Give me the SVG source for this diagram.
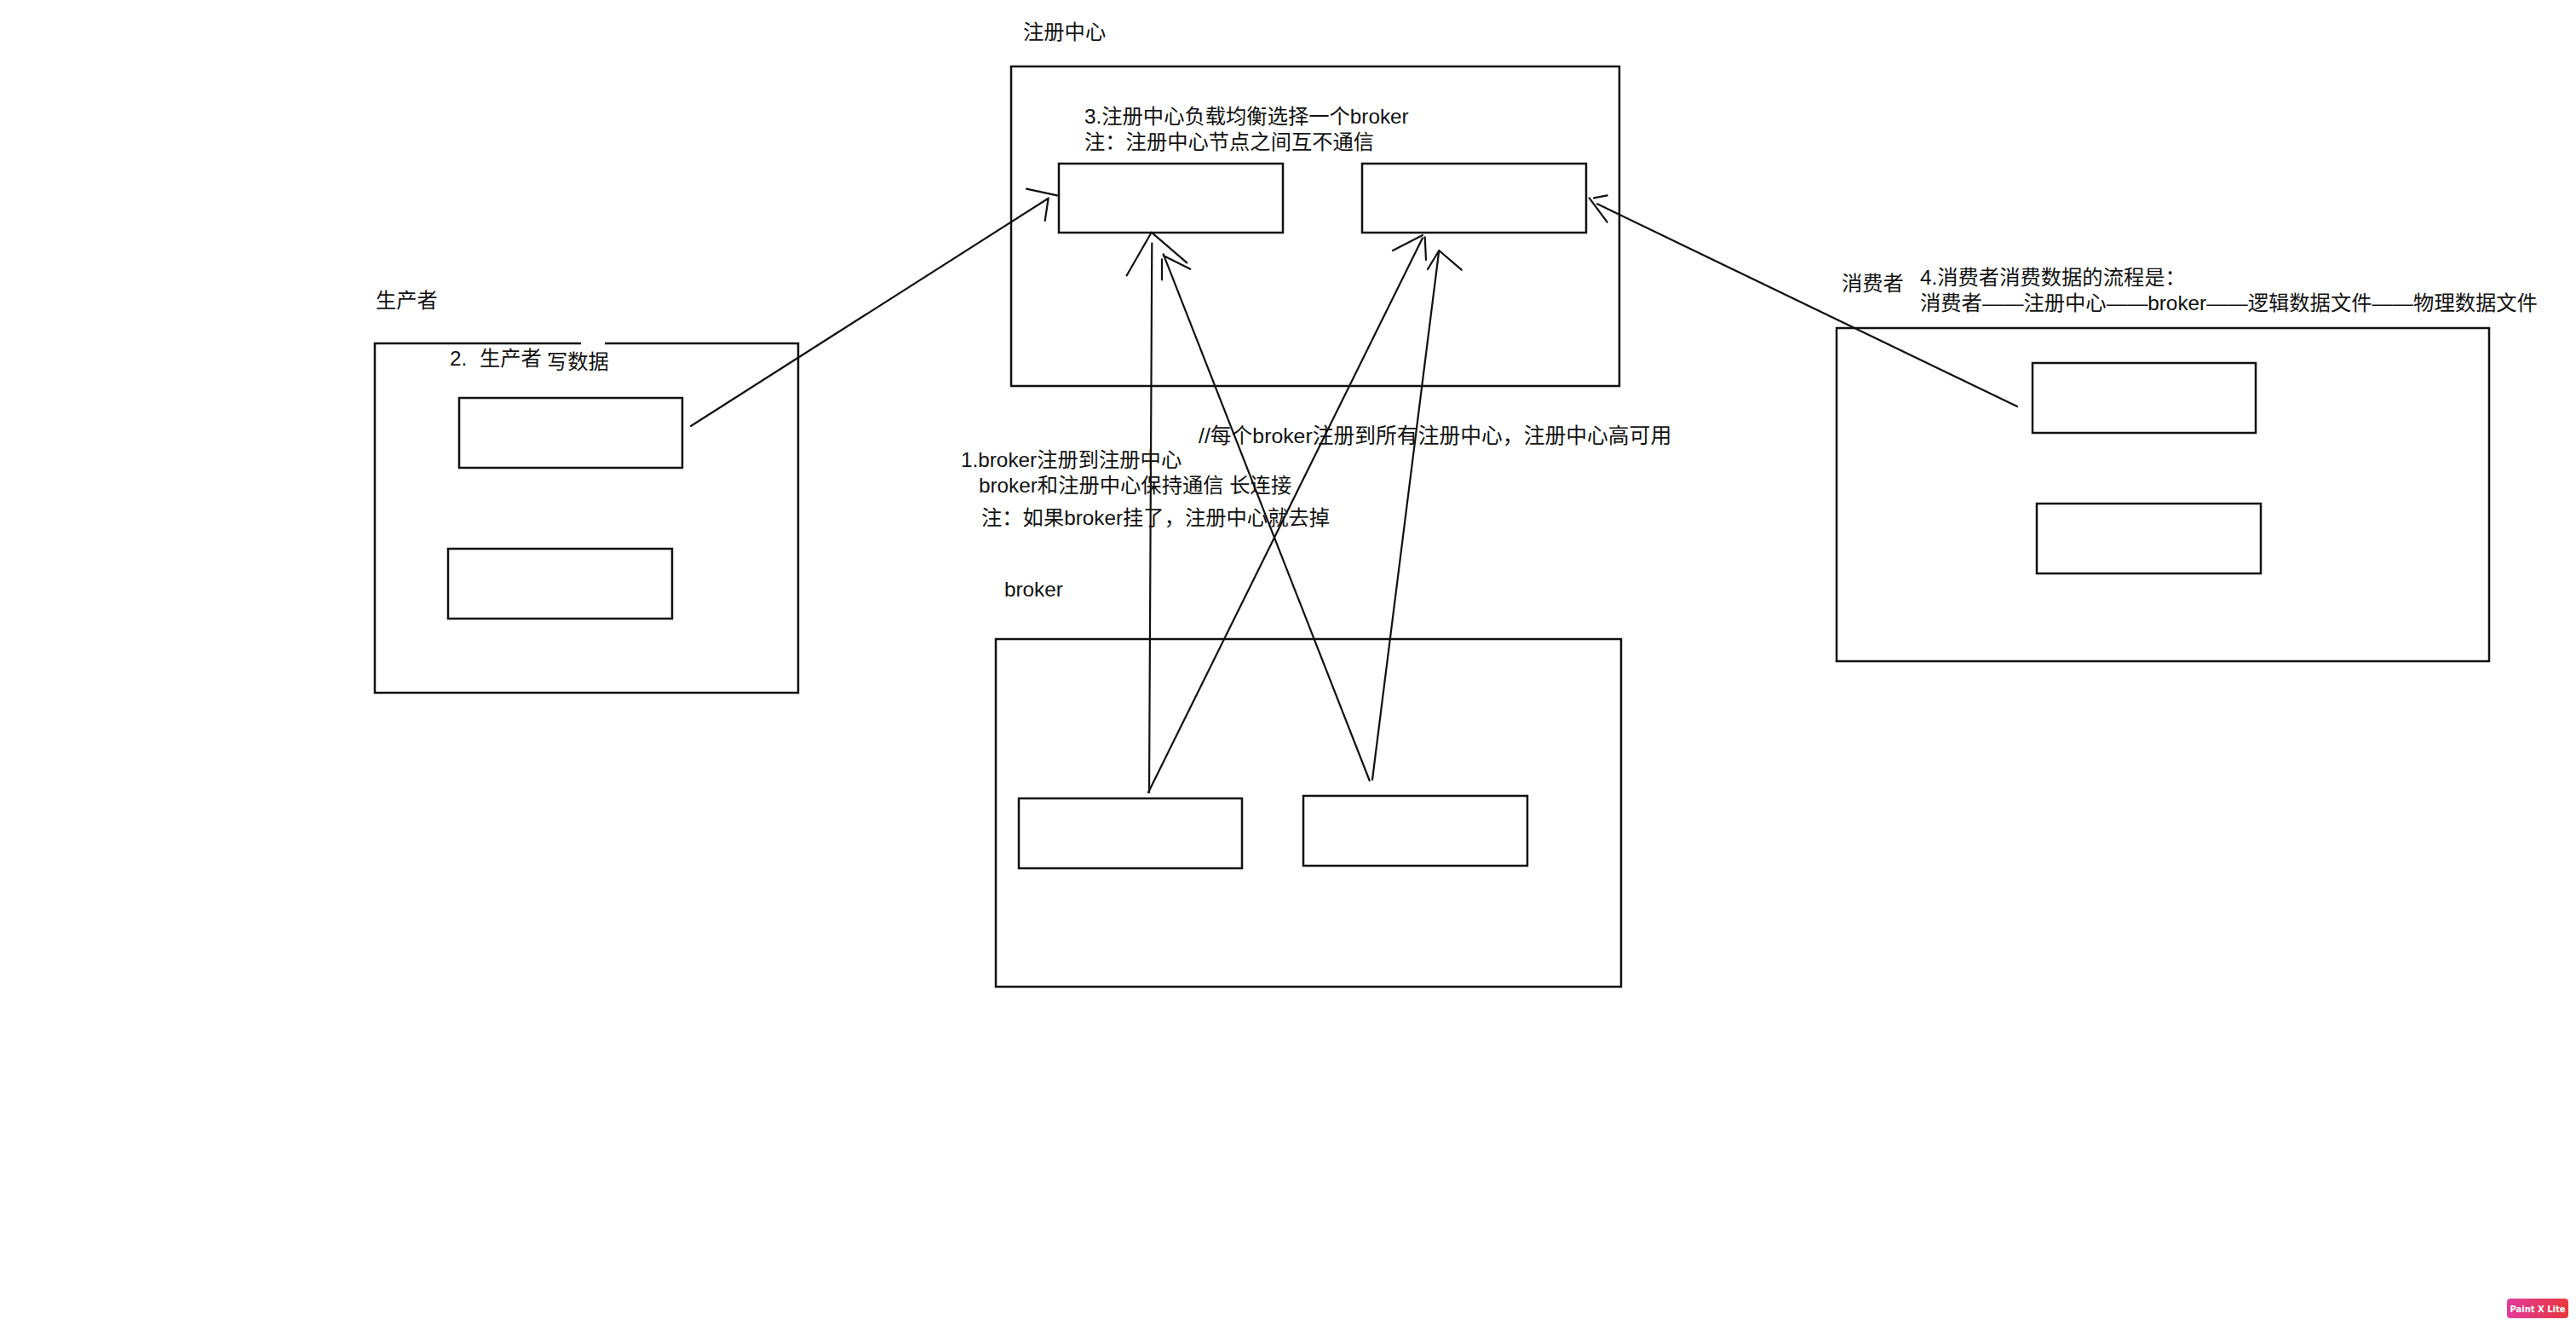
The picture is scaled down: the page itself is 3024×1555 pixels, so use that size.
<svg xmlns="http://www.w3.org/2000/svg" width="3024" height="1555" viewBox="0 0 3024 1555">
  <defs>
    <linearGradient id="badgeGrad" x1="0" y1="0" x2="1" y2="0">
      <stop offset="0" stop-color="#e2399a"/>
      <stop offset="1" stop-color="#e8383c"/>
    </linearGradient>
  </defs>
  <style>
    .box { fill: none; stroke: #111; stroke-width: 2.5; }
    .node { fill: #fff; stroke: #111; stroke-width: 2.5; }
    .ln { fill: none; stroke: #111; stroke-width: 2.2; stroke-linecap: round; stroke-linejoin: round; }
    .t { font-family: "Liberation Sans", "Noto Sans CJK SC", sans-serif; font-size: 24.3px; fill: #111; }
    .wide { font-size: 24.8px; }
    .badge { font-family: "DejaVu Sans", sans-serif; font-size: 10px; font-weight: bold; fill: #fff; }
  </style>
  <rect x="0" y="0" width="3024" height="1555" fill="#fff"/>

  <!-- Registry center -->
  <g id="registry">
    <text class="t" x="1201" y="46">注册中心</text>
    <rect class="box" x="1187" y="78" width="714" height="375"/>
    <text class="t" x="1273" y="145">3.注册中心负载均衡选择一个broker</text>
    <text class="t" x="1273" y="175">注：注册中心节点之间互不通信</text>
    <g id="registry-node-1"><rect class="node" x="1243" y="192" width="263" height="81"/></g>
    <g id="registry-node-2"><rect class="node" x="1599" y="192" width="263" height="81"/></g>
  </g>

  <!-- Producer -->
  <g id="producer">
    <text class="t" x="441" y="361">生产者</text>
    <rect class="box" x="440" y="403" width="497" height="410"/>
    <rect x="682" y="399" width="28" height="7" fill="#fff"/>
    <text class="t" x="528" y="429">2.<tspan dx="8"> 生产者</tspan></text>
    <text class="t" x="642" y="433">写数据</text>
    <g id="producer-node-1"><rect class="node" x="539" y="467" width="262" height="82"/></g>
    <g id="producer-node-2"><rect class="node" x="526" y="644" width="263" height="82"/></g>
  </g>

  <!-- Consumer -->
  <g id="consumer">
    <text class="t" x="2162" y="341">消费者</text>
    <text class="t" x="2254" y="334">4.消费者消费数据的流程是：</text>
    <text class="t" x="2254" y="364">消费者——注册中心——broker——逻辑数据文件——物理数据文件</text>
    <rect class="box" x="2156" y="385" width="766" height="391"/>
    <g id="consumer-node-1"><rect class="node" x="2386" y="426" width="262" height="82"/></g>
    <g id="consumer-node-2"><rect class="node" x="2391" y="591" width="263" height="82"/></g>
  </g>

  <!-- Broker cluster -->
  <g id="broker">
    <text class="t" x="1179" y="700">broker</text>
    <rect class="box" x="1169" y="750" width="734" height="408"/>
    <g id="broker-node-1"><rect class="node" x="1196" y="937" width="262" height="82"/></g>
    <g id="broker-node-2"><rect class="node" x="1530" y="934" width="263" height="82"/></g>
  </g>

  <!-- Middle annotations -->
  <g id="notes">
    <text class="t wide" x="1407" y="520">//每个broker注册到所有注册中心，注册中心高可用</text>
    <text class="t" x="1128" y="548">1.broker注册到注册中心</text>
    <text class="t" x="1149" y="578">broker和注册中心保持通信 长连接</text>
    <text class="t" x="1152" y="616">注：如果broker挂了，注册中心就去掉</text>
  </g>

  <!-- Connectors -->
  <g id="connectors">
    <!-- producer -> registry node 1 -->
    <path class="ln" d="M811,500 L1230.7,232.7 M1230.7,232.7 L1226.7,259 M1205,221.7 L1241,229.3"/>
    <!-- broker node 1 -> registry node 1 -->
    <path class="ln" d="M1349,930 L1352.3,285.7 M1322.7,323.3 L1351.7,272.7 L1393.3,308.3"/>
    <!-- broker node 2 -> registry node 1 -->
    <path class="ln" d="M1607.7,916 L1365.7,298.3 M1365.7,300 L1397.3,315.7 M1364,304.3 L1364,328.3"/>
    <!-- broker node 1 -> registry node 2 -->
    <path class="ln" d="M1348,930 L1670,279.3 M1670,276 L1635,294 M1672.7,278.3 L1674,305"/>
    <!-- broker node 2 -> registry node 2 -->
    <path class="ln" d="M1611,915 L1689.3,294 M1676,316 L1689.3,294 L1715.7,316.7"/>
    <!-- consumer -> registry node 2 -->
    <path class="ln" d="M2368,477 L1875,239.3 M1865.7,232.3 L1886.7,260.7 M1871,232.3 L1886.7,229.3"/>
  </g>

  <!-- Badge -->
  <g id="badge">
    <rect x="2943" y="1524" width="72" height="23" rx="4" fill="url(#badgeGrad)"/>
    <text class="badge" x="2979" y="1539.5" text-anchor="middle">Paint X Lite</text>
  </g>
</svg>
